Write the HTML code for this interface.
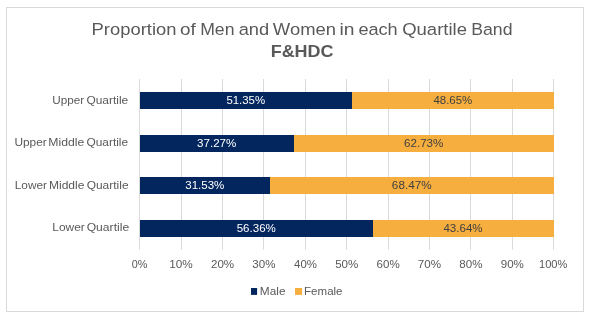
<!DOCTYPE html>
<html><head><meta charset="utf-8"><style>
html,body{margin:0;padding:0;background:#fff;width:591px;height:318px;overflow:hidden}
svg{display:block;will-change:transform;font-family:"Liberation Sans",sans-serif}
</style></head><body>
<svg width="591" height="318" viewBox="0 0 591 318">
<rect x="6.5" y="7.5" width="577" height="304" fill="#fff" stroke="#d9d9d9" stroke-width="1"/>
<rect x="139" y="79" width="1" height="170.6" fill="#d9d9d9"/>
<rect x="181" y="79" width="1" height="170.6" fill="#d9d9d9"/>
<rect x="222" y="79" width="1" height="170.6" fill="#d9d9d9"/>
<rect x="263" y="79" width="1" height="170.6" fill="#d9d9d9"/>
<rect x="305" y="79" width="1" height="170.6" fill="#d9d9d9"/>
<rect x="346" y="79" width="1" height="170.6" fill="#d9d9d9"/>
<rect x="388" y="79" width="1" height="170.6" fill="#d9d9d9"/>
<rect x="429" y="79" width="1" height="170.6" fill="#d9d9d9"/>
<rect x="470" y="79" width="1" height="170.6" fill="#d9d9d9"/>
<rect x="512" y="79" width="1" height="170.6" fill="#d9d9d9"/>
<rect x="553" y="79" width="1" height="170.6" fill="#d9d9d9"/>
<rect x="140.0" y="92" width="212.00" height="17" fill="#03265E"/>
<rect x="352.00" y="92" width="202.00" height="17" fill="#F6AE3E"/>
<rect x="140.0" y="135" width="154.00" height="17" fill="#03265E"/>
<rect x="294.00" y="135" width="260.00" height="17" fill="#F6AE3E"/>
<rect x="140.0" y="177" width="130.00" height="17" fill="#03265E"/>
<rect x="270.00" y="177" width="284.00" height="17" fill="#F6AE3E"/>
<rect x="140.0" y="220" width="233.00" height="17" fill="#03265E"/>
<rect x="373.00" y="220" width="181.00" height="17" fill="#F6AE3E"/>
<rect x="251" y="288" width="6.1" height="6.9" fill="#03265E"/>
<rect x="295" y="288" width="7.1" height="6.9" fill="#F6AE3E"/>
<text transform="matrix(1.1151,0,0,1,91.57,35.0)" font-size="16.5" fill="#595959">Proportion</text>
<text transform="matrix(1.1462,0,0,1,180.04,35.0)" font-size="16.5" fill="#595959">of</text>
<text transform="matrix(1.0700,0,0,1,200.13,35.0)" font-size="16.5" fill="#595959">Men</text>
<text transform="matrix(1.1068,0,0,1,238.67,35.0)" font-size="16.5" fill="#595959">and</text>
<text transform="matrix(1.1178,0,0,1,272.86,35.0)" font-size="16.5" fill="#595959">Women</text>
<text transform="matrix(1.1671,0,0,1,339.59,35.0)" font-size="16.5" fill="#595959">in</text>
<text transform="matrix(1.1000,0,0,1,358.38,35.0)" font-size="16.5" fill="#595959">each</text>
<text transform="matrix(1.1236,0,0,1,402.16,35.0)" font-size="16.5" fill="#595959">Quartile</text>
<text transform="matrix(1.0713,0,0,1,471.23,35.0)" font-size="16.5" fill="#595959">Band</text>
<text transform="matrix(1.1102,0,0,1,270.65,57.0)" font-size="16.2" font-weight="bold" fill="#595959">F&amp;HDC</text>
<text transform="matrix(1.0667,0,0,1,52.17,103.8)" font-size="11" fill="#595959">Upper</text>
<text transform="matrix(1.0853,0,0,1,86.46,103.8)" font-size="11" fill="#595959">Quartile</text>
<text transform="matrix(1.0823,0,0,1,14.40,145.9)" font-size="11" fill="#595959">Upper</text>
<text transform="matrix(1.1129,0,0,1,48.23,145.9)" font-size="11" fill="#595959">Middle</text>
<text transform="matrix(1.0827,0,0,1,86.46,145.9)" font-size="11" fill="#595959">Quartile</text>
<text transform="matrix(1.0771,0,0,1,14.76,188.85)" font-size="11" fill="#595959">Lower</text>
<text transform="matrix(1.0968,0,0,1,48.94,188.85)" font-size="11" fill="#595959">Middle</text>
<text transform="matrix(1.0880,0,0,1,86.66,188.85)" font-size="11" fill="#595959">Quartile</text>
<text transform="matrix(1.0874,0,0,1,52.25,230.9)" font-size="11" fill="#595959">Lower</text>
<text transform="matrix(1.1040,0,0,1,86.65,230.9)" font-size="11" fill="#595959">Quartile</text>
<text transform="matrix(1.0392,0,0,1,226.38,103.9)" font-size="11" fill="#fff">51.35%</text>
<text transform="matrix(1.0403,0,0,1,433.44,103.9)" font-size="11" fill="#404040">48.65%</text>
<text transform="matrix(1.0529,0,0,1,197.07,146.75)" font-size="11" fill="#fff">37.27%</text>
<text transform="matrix(1.0584,0,0,1,403.97,146.75)" font-size="11" fill="#404040">62.73%</text>
<text transform="matrix(1.0488,0,0,1,185.23,188.8)" font-size="11" fill="#fff">31.53%</text>
<text transform="matrix(1.0667,0,0,1,391.87,188.8)" font-size="11" fill="#404040">68.47%</text>
<text transform="matrix(1.0502,0,0,1,236.67,231.75)" font-size="11" fill="#fff">56.36%</text>
<text transform="matrix(1.0512,0,0,1,443.44,231.75)" font-size="11" fill="#404040">43.64%</text>
<text transform="matrix(0.9851,0,0,1,131.73,267.9)" font-size="11" fill="#595959">0%</text>
<text transform="matrix(1.0699,0,0,1,169.16,267.9)" font-size="11" fill="#595959">10%</text>
<text transform="matrix(1.0509,0,0,1,210.97,267.9)" font-size="11" fill="#595959">20%</text>
<text transform="matrix(1.0509,0,0,1,252.37,267.9)" font-size="11" fill="#595959">30%</text>
<text transform="matrix(1.0386,0,0,1,294.04,267.9)" font-size="11" fill="#595959">40%</text>
<text transform="matrix(1.0509,0,0,1,335.17,267.9)" font-size="11" fill="#595959">50%</text>
<text transform="matrix(1.0509,0,0,1,376.57,267.9)" font-size="11" fill="#595959">60%</text>
<text transform="matrix(1.0571,0,0,1,417.84,267.9)" font-size="11" fill="#595959">70%</text>
<text transform="matrix(1.0509,0,0,1,459.37,267.9)" font-size="11" fill="#595959">80%</text>
<text transform="matrix(1.0509,0,0,1,500.77,267.9)" font-size="11" fill="#595959">90%</text>
<text transform="matrix(1.0121,0,0,1,539.01,267.9)" font-size="11" fill="#595959">100%</text>
<text transform="matrix(1.0756,0,0,1,259.86,294.8)" font-size="11" fill="#595959">Male</text>
<text transform="matrix(1.0488,0,0,1,304.08,294.8)" font-size="11" fill="#595959">Female</text>
</svg>
</body></html>
